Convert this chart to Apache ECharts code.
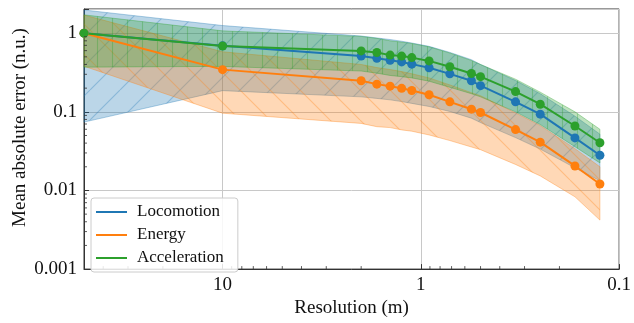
<!DOCTYPE html>
<html><head><meta charset="utf-8">
<script src="https://cdn.jsdelivr.net/npm/echarts@6/dist/echarts.min.js"></script>
<style>html,body{margin:0;padding:0;background:#fff}#c{width:634px;height:323px}</style>
</head><body><div id="c"></div>
<script>
// ---- data ----
const resolution = [50, 10, 2, 1.667, 1.429, 1.25, 1.111, 0.909, 0.714, 0.556, 0.5, 0.333, 0.25, 0.167, 0.125];

const locomotion      = [1.0, 0.69, 0.511, 0.479, 0.453, 0.431, 0.404, 0.364, 0.304, 0.248, 0.215, 0.134, 0.0934, 0.0466, 0.028];
const locomotionLower = [0.074, 0.186, 0.155, 0.148, 0.142, 0.135, 0.128, 0.117, 0.101, 0.083, 0.073, 0.047, 0.0336, 0.0194, 0.0133];
const locomotionUpper = [1.97, 1.25, 0.92, 0.87, 0.83, 0.79, 0.75, 0.68, 0.57, 0.46, 0.40, 0.25, 0.17, 0.088, 0.052];

const energy      = [1.0, 0.344, 0.248, 0.225, 0.212, 0.199, 0.187, 0.165, 0.134, 0.108, 0.098, 0.0594, 0.0411, 0.0205, 0.0121];
const energyLower = [0.38, 0.096, 0.0712, 0.0647, 0.063, 0.0589, 0.0567, 0.0508, 0.0431, 0.0357, 0.033, 0.0214, 0.0153, 0.0083, 0.0042];
const energyUpper = [1.7, 0.58, 0.40, 0.365, 0.345, 0.325, 0.305, 0.27, 0.22, 0.175, 0.16, 0.097, 0.067, 0.034, 0.020];

const acceleration      = [1.0, 0.686, 0.595, 0.568, 0.526, 0.511, 0.489, 0.444, 0.374, 0.307, 0.280, 0.181, 0.125, 0.066, 0.0404];
const accelerationLower = [0.37, 0.378, 0.33, 0.31, 0.29, 0.28, 0.27, 0.245, 0.205, 0.17, 0.155, 0.10, 0.069, 0.036, 0.0224];
const accelerationUpper = [1.71, 1.07, 0.91, 0.86, 0.80, 0.77, 0.74, 0.67, 0.56, 0.45, 0.40, 0.26, 0.178, 0.10, 0.060];

const seriesNames = ['Locomotion', 'Energy', 'Acceleration'];
const xTickLabels = {'-1': '0.1', '0': '1', '1': '10'};
const yTickLabels = {'-3': '0.001', '-2': '0.01', '-1': '0.1', '0': '1'};
const xMinorTicks = [0.2, 0.3, 0.4, 0.5, 0.6, 0.7, 0.8, 0.9, 2, 3, 4, 5, 6, 7, 8, 9, 20, 30, 40];
const yMinorTicks = [0.002, 0.003, 0.004, 0.005, 0.006, 0.007, 0.008, 0.009,
                     0.02, 0.03, 0.04, 0.05, 0.06, 0.07, 0.08, 0.09,
                     0.2, 0.3, 0.4, 0.5, 0.6, 0.7, 0.8, 0.9, 2];

// ---- styling ----
const COLORS = ['#1f77b4', '#ff7f0e', '#2ca02c'];
const FONT = '"Liberation Serif", "Times New Roman", serif';
const X_MIN = 0.1, X_MAX = 50, Y_MIN = 0.001, Y_MAX = 2.03;

function rgba(hex, a) {
  const n = parseInt(hex.slice(1), 16);
  return 'rgba(' + ((n >> 16) & 255) + ',' + ((n >> 8) & 255) + ',' + (n & 255) + ',' + a + ')';
}
function makePattern(hex, hatch) {
  const size = hatch === '|' ? 15 : 30;
  const c = document.createElement('canvas');
  c.width = size; c.height = size;
  const g = c.getContext('2d');
  g.fillStyle = rgba(hex, 0.3);
  g.fillRect(0, 0, size, size);
  g.strokeStyle = rgba(hex, 0.32);
  g.lineWidth = 1.1;
  g.beginPath();
  if (hatch === '|') {
    g.moveTo(size / 2, 0); g.lineTo(size / 2, size);
  } else if (hatch === '/') {
    for (const o of [-size, 0, size]) { g.moveTo(o, size); g.lineTo(o + size, 0); }
  } else {
    for (const o of [-size, 0, size]) { g.moveTo(o, 0); g.lineTo(o + size, size); }
  }
  g.stroke();
  return {image: c, repeat: 'repeat'};
}

function bandSeries(name, lower, upper, color, hatch) {
  const pattern = makePattern(color, hatch);
  return {
    type: 'custom', name: name + ' band', silent: true, z: 1,
    data: resolution.map((r, i) => [r, lower[i], upper[i]]),
    encode: {x: 0, y: [1, 2]},
    renderItem: function (params, api) {
      if (params.dataIndex !== 0) return null;
      const pts = [];
      for (let i = 0; i < resolution.length; i++) pts.push(api.coord([resolution[i], upper[i]]));
      for (let i = resolution.length - 1; i >= 0; i--) pts.push(api.coord([resolution[i], lower[i]]));
      return {type: 'polygon', shape: {points: pts},
        style: {fill: pattern, stroke: rgba(color, 0.35), lineWidth: 1}};
    }
  };
}
function lineSeries(name, values, color) {
  return {
    type: 'line', name: name, z: 3,
    data: resolution.map((r, i) => [r, values[i]]),
    symbol: 'circle', symbolSize: 9, showSymbol: true,
    lineStyle: {color: color, width: 2},
    itemStyle: {color: color},
    emphasis: {disabled: true}
  };
}
const minorTickSeries = {
  type: 'custom', silent: true, z: 5,
  data: [[1, 0.1]],
  encode: {x: 0, y: 1},
  clip: false,
  renderItem: function (params, api) {
    const children = [];
    xMinorTicks.forEach(v => {
      const p = api.coord([v, Y_MIN]);
      children.push({type: 'line', shape: {x1: p[0], y1: p[1], x2: p[0], y2: p[1] - 3},
        style: {stroke: '#333', lineWidth: 0.8}});
    });
    yMinorTicks.forEach(v => {
      const p = api.coord([X_MAX, v]);
      children.push({type: 'line', shape: {x1: p[0], y1: p[1], x2: p[0] + 3, y2: p[1]},
        style: {stroke: '#333', lineWidth: 0.8}});
    });
    return {type: 'group', children: children};
  }
};

function powerLabel(map) {
  return function (v) {
    const l = Math.log10(v);
    const r = Math.round(l);
    if (Math.abs(l - r) > 1e-6) return '';
    return map[String(r)] || '';
  };
}

const chart = echarts.init(document.getElementById('c'), null, {renderer: 'canvas'});
chart.setOption({
  animation: false,
  backgroundColor: '#fff',
  textStyle: {fontFamily: FONT},
  grid: {left: 84, right: 10, top: 9, bottom: 45, show: true, borderColor: '#333', borderWidth: 1, backgroundColor: 'transparent'},
  xAxis: {
    type: 'log', logBase: 10, min: X_MIN, max: X_MAX, inverse: true,
    name: 'Resolution (m)', nameLocation: 'middle', nameGap: 22,
    nameTextStyle: {fontFamily: FONT, fontSize: 19, color: '#111'},
    axisLine: {show: true, lineStyle: {color: '#333', width: 1}},
    axisTick: {show: true, inside: true, length: 5, lineStyle: {color: '#333', width: 1}},
    axisLabel: {fontFamily: FONT, fontSize: 19, color: '#111', margin: 6, formatter: powerLabel(xTickLabels),
      showMinLabel: true, showMaxLabel: true, hideOverlap: false},
    splitLine: {show: true, lineStyle: {color: '#c8c8c8', width: 1}},
    minorTick: {show: false}
  },
  yAxis: {
    type: 'log', logBase: 10, min: Y_MIN, max: Y_MAX,
    axisLine: {show: true, lineStyle: {color: '#333', width: 1}},
    axisTick: {show: true, inside: true, length: 5, lineStyle: {color: '#333', width: 1}},
    axisLabel: {fontFamily: FONT, fontSize: 19, color: '#111', margin: 7, formatter: powerLabel(yTickLabels),
      showMinLabel: true, hideOverlap: false},
    splitLine: {show: true, lineStyle: {color: '#c8c8c8', width: 1}}
  },
  legend: {
    data: seriesNames,
    orient: 'vertical', left: 91, top: 198,
    icon: 'rect', itemWidth: 31, itemHeight: 2, itemGap: 3,
    padding: [4, 14, 4, 5],
    backgroundColor: 'rgba(255,255,255,0.85)', borderColor: '#cccccc', borderWidth: 1, borderRadius: 3,
    textStyle: {fontFamily: FONT, fontSize: 17, color: '#111', lineHeight: 20, padding: [0, 0, 0, 5]},
    z: 10
  },
  graphic: [{
    type: 'text', z: 10,
    x: 20, y: 127.5, rotation: Math.PI / 2,
    style: {text: 'Mean absolute error (n.u.)', font: '19px ' + FONT, fill: '#111', align: 'center', verticalAlign: 'middle'}
  }],
  series: [
    bandSeries(seriesNames[0], locomotionLower, locomotionUpper, COLORS[0], '/'),
    bandSeries(seriesNames[1], energyLower, energyUpper, COLORS[1], '\\'),
    bandSeries(seriesNames[2], accelerationLower, accelerationUpper, COLORS[2], '|'),
    lineSeries(seriesNames[0], locomotion, COLORS[0]),
    lineSeries(seriesNames[1], energy, COLORS[1]),
    lineSeries(seriesNames[2], acceleration, COLORS[2]),
    minorTickSeries
  ]
});
</script>
</body></html>
